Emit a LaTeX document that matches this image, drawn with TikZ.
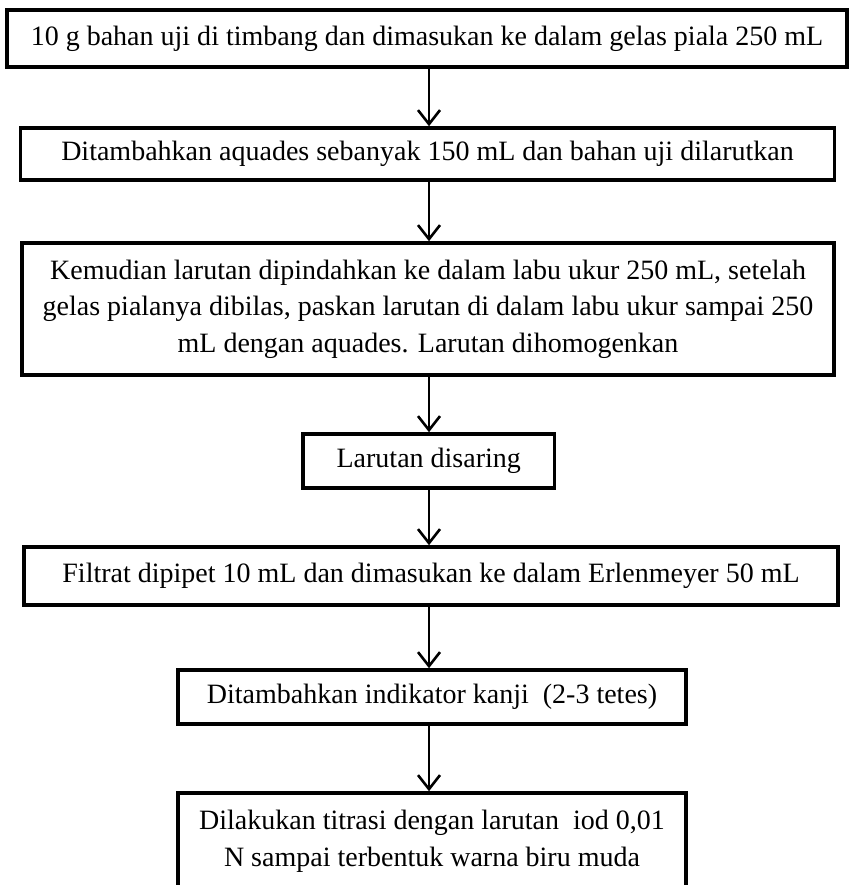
\documentclass[tikz,border=0pt]{standalone}
\usepackage{fontspec}
\setmainfont{Liberation Serif}
\usetikzlibrary{arrows.meta}
\begin{document}
\begin{tikzpicture}[x=1pt,y=-1pt,
  stepbox/.style={draw, line width=3.6pt, inner sep=0pt, align=center,
    font=\fontsize{28}{36.5}\selectfont},
  flow/.style={line width=2.3pt,
    -{Straight Barb[length=14pt,width=22pt,line width=2.6pt]}}]
\useasboundingbox (0,0) rectangle (848,885);

% vertical axis of the connectors
\coordinate (ax) at (429,0);

\node[stepbox, minimum width=840pt, minimum height=57pt] (s1) at (427,38.5)
  {10 g bahan uji di timbang dan dimasukan ke dalam gelas piala 250 mL};
\node[stepbox, minimum width=814pt, minimum height=52pt] (s2) at (427.5,154)
  {Ditambahkan aquades sebanyak 150 mL dan bahan uji dilarutkan};
\node[stepbox, minimum width=812.5pt, minimum height=132pt] (s3) at (428,309)
  {Kemudian larutan dipindahkan ke dalam labu ukur 250 mL, setelah\\
   gelas pialanya dibilas, paskan larutan di dalam labu ukur sampai 250\\
   mL dengan aquades. Larutan dihomogenkan};
\node[stepbox, minimum width=251.5pt, minimum height=54pt] (s4) at (428.75,461)
  {Larutan disaring};
\node[stepbox, minimum width=814pt, minimum height=58pt] (s5) at (431,576)
  {Filtrat dipipet 10 mL dan dimasukan ke dalam Erlenmeyer 50 mL};
\node[stepbox, minimum width=508pt, minimum height=54pt] (s6) at (432,697)
  {Ditambahkan indikator kanji\ \ (2-3 tetes)};
\node[stepbox, minimum width=508pt, minimum height=97pt] (s7) at (432,841.5)
  {Dilakukan titrasi dengan larutan\ \ iod 0,01\\
   N sampai terbentuk warna biru muda};

\draw[flow] (s1.south -| ax) -- (s2.north -| ax);
\draw[flow] (s2.south -| ax) -- (s3.north -| ax);
\draw[flow] (s3.south -| ax) -- (s4.north -| ax);
\draw[flow] (s4.south -| ax) -- (s5.north -| ax);
\draw[flow] (s5.south -| ax) -- (s6.north -| ax);
\draw[flow] (s6.south -| ax) -- (s7.north -| ax);
\end{tikzpicture}
\end{document}
